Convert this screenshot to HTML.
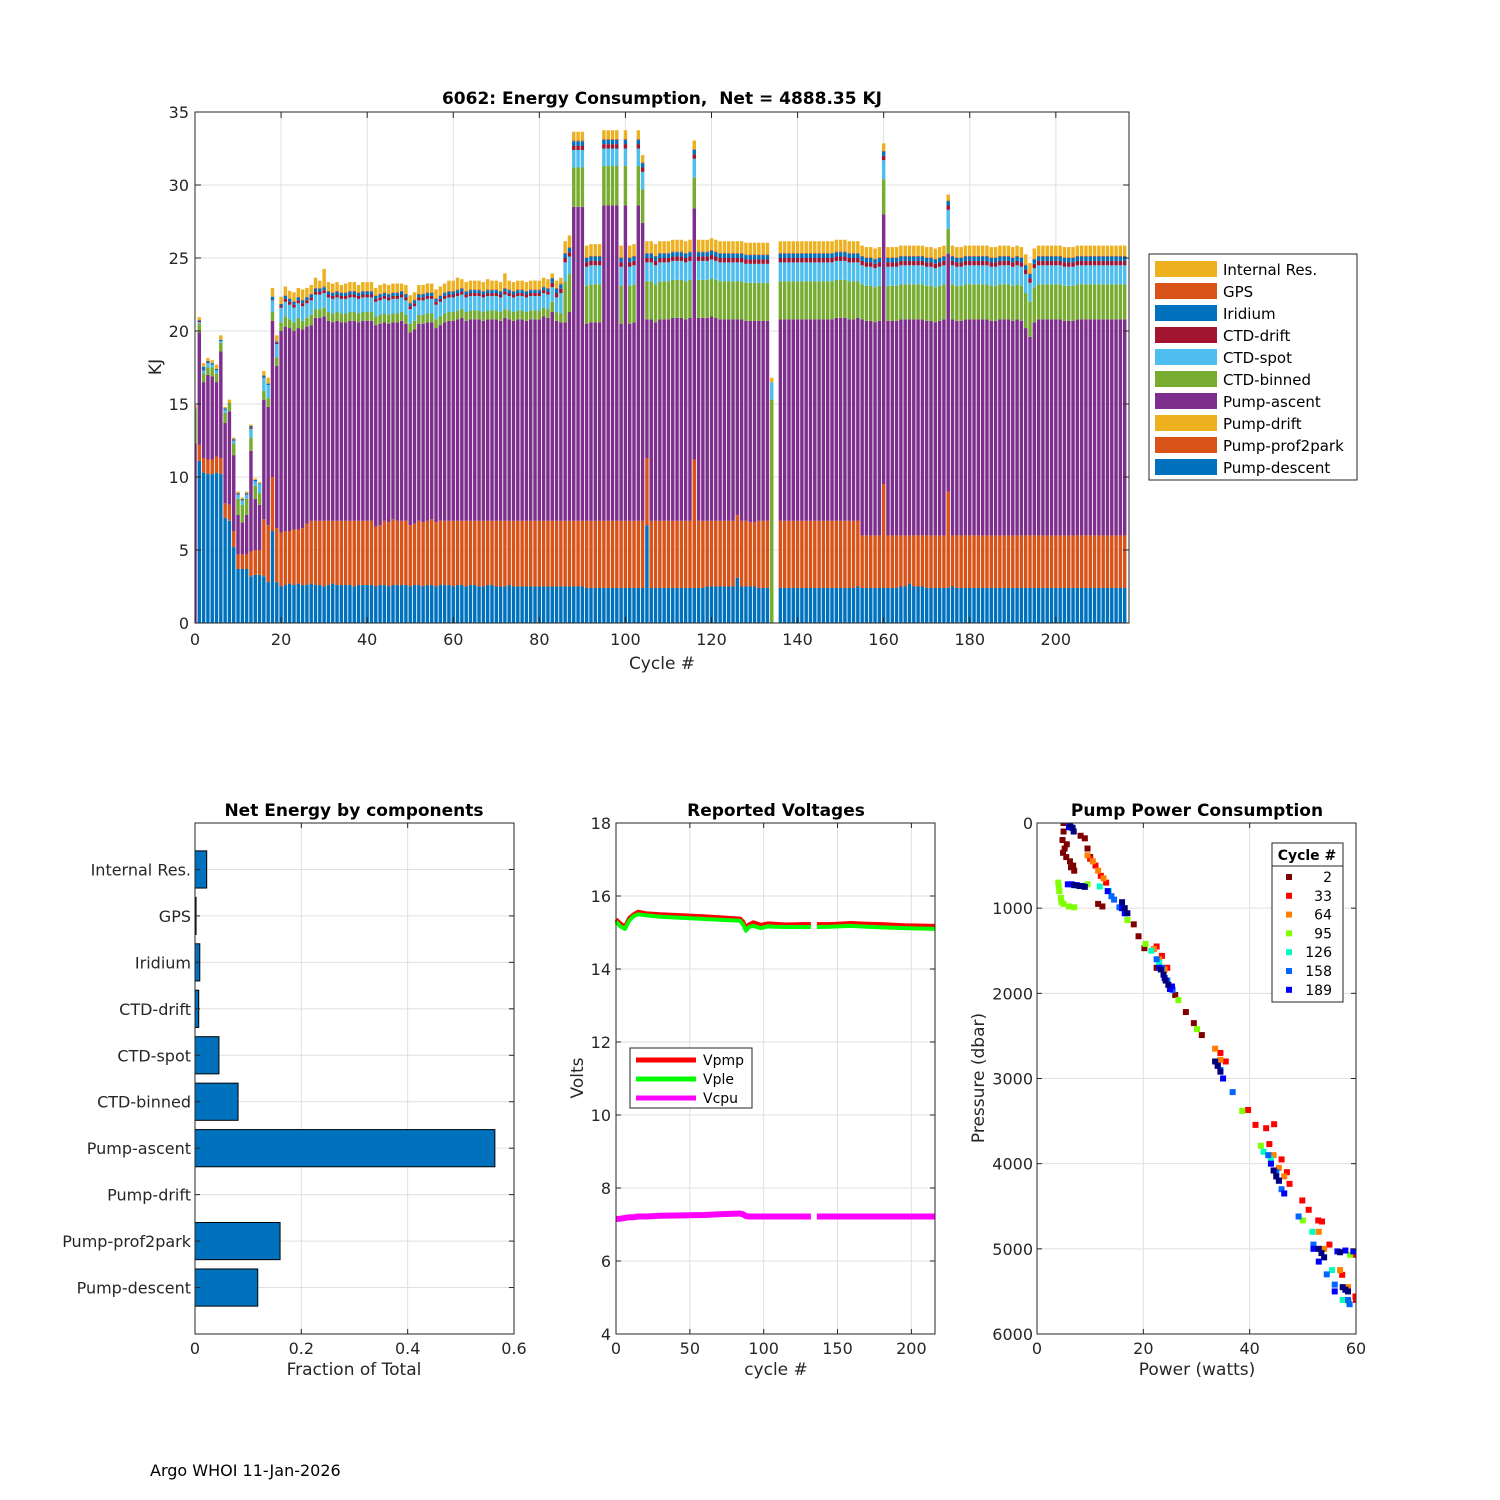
<!DOCTYPE html>
<html><head><meta charset="utf-8"><style>
html,body{margin:0;padding:0;background:#fff;}
svg{display:block;font-family:"DejaVu Sans","Liberation Sans",sans-serif;}
</style></head><body>
<svg id="chart" width="1500" height="1500" viewBox="0 0 1500 1500" xmlns="http://www.w3.org/2000/svg">
<rect x="0" y="0" width="1500" height="1500" fill="#fff"/>
<defs><clipPath id="topclip"><rect x="195" y="112" width="934" height="511"/></clipPath>
<clipPath id="rclip"><rect x="1037" y="823" width="319" height="511"/></clipPath></defs>
<text x="662" y="104" text-anchor="middle" font-size="17" font-weight="bold" fill="#000">6062: Energy Consumption,&#160; Net = 4888.35 KJ</text>
<text x="662" y="669" text-anchor="middle" font-size="17" fill="#262626">Cycle #</text>
<text transform="translate(161,367) rotate(-90)" text-anchor="middle" font-size="17" fill="#262626">KJ</text>
<text x="354" y="816" text-anchor="middle" font-size="17" font-weight="bold" fill="#000">Net Energy by components</text>
<text x="776" y="816" text-anchor="middle" font-size="17" font-weight="bold" fill="#000">Reported Voltages</text>
<text x="1197" y="816" text-anchor="middle" font-size="17" font-weight="bold" fill="#000">Pump Power Consumption</text>
<text x="354" y="1375" text-anchor="middle" font-size="17" fill="#262626">Fraction of Total</text>
<text x="776" y="1375" text-anchor="middle" font-size="17" fill="#262626">cycle #</text>
<text transform="translate(583,1078) rotate(-90)" text-anchor="middle" font-size="17" fill="#262626">Volts</text>
<text x="1197" y="1375" text-anchor="middle" font-size="17" fill="#262626">Power (watts)</text>
<text transform="translate(984,1078) rotate(-90)" text-anchor="middle" font-size="17" fill="#262626">Pressure (dbar)</text>
<text x="150" y="1476" font-size="16" fill="#000">Argo WHOI 11-Jan-2026</text>
</svg>
<script>
// ===== Top chart data (per cycle 0..216) =====
const seriesNames = ["Pump-descent","Pump-prof2park","Pump-drift","Pump-ascent","CTD-binned","CTD-spot","CTD-drift","Iridium","GPS","Internal Res."];
const seriesColors = ["#0072BD","#D95319","#EDB120","#7E2F8E","#77AC30","#4DBEEE","#A2142F","#0072BD","#D95319","#EDB120"];
const pumpDescent = [0,11.1,10.3,10.2,10.2,10.3,10.2,7.2,7.0,5.2,3.7,3.7,3.7,3.2,3.3,3.3,3.2,2.8,6.3,2.8,2.5,
2.6,2.7,2.6,2.7,2.6,2.6,2.7,2.6,2.6,2.5, 2.6,2.7,2.6,2.6,2.6,2.6,2.5,2.6,2.6,2.6, 2.6,2.5,2.6,2.6,2.5,2.6,2.6,2.6,2.6,2.5, 2.6,2.6,2.5,2.6,2.6,2.5,2.6,2.6,2.6,2.5, 2.6,2.6,2.5,2.6,2.6,2.5,2.5,2.6,2.6,2.5, 2.5,2.5,2.6,2.5,2.5,2.5,2.5,2.5,2.5,2.5, 2.5,2.5,
2.5,2.5,2.5,2.5,2.5,2.5,2.5,2.5,2.4,2.4, 2.4,2.4,2.4,2.4,2.4,2.4,2.4,2.4,2.4,2.4, 2.4,2.4,6.7,2.4,2.4,2.4,2.4,2.4,2.4,2.4, 2.4,2.4,2.4,2.4,2.4,2.4,2.5,2.5,2.5,2.5, 2.5,2.5,2.5,3.1,2.5,2.5,2.5,2.5,2.4,2.4, 2.4,0,0,2.4,2.4,2.4,2.4,2.4,2.4,2.4, 2.4,2.4,2.4,2.4,2.4,2.4,2.4,2.4,2.4,2.4, 2.4,2.5,2.4,2.4,2.4,2.4,2.4,2.4,2.4,2.4, 2.4,2.5,2.5,2.7,2.5,2.5,2.5,2.4,2.4,2.4, 2.4,2.4,2.4,2.5,2.4,2.4,2.4,2.4,2.4,2.4, 2.4,2.4,2.4,2.4,2.4,2.4,2.4,2.4,2.4,2.4, 2.4,2.4,2.4,2.4,2.4,2.4,2.4,2.4,2.4,2.4, 2.4,2.4,2.4,2.4,2.4,2.4,2.4,2.4,2.4,2.4, 2.4,2.4,2.4,2.4];
const pumpProf2park = [0,1.1,1.0,1.0,1.0,1.1,1.1,1.0,1.1,1.1,1.0,1.0,1.0,1.7,1.7,1.7,3.9,3.9,3.7,3.7,3.7,
3.7,3.6,3.8,3.7,3.9,4.2,4.3,4.4,4.4,4.5, 4.4,4.3,4.4,4.4,4.4,4.4,4.5,4.4,4.4,4.4, 4.4,4.1,4.1,4.4,4.4,4.5,4.4,4.4,4.4,4.2, 4.2,4.4,4.4,4.4,4.5,4.4,4.4,4.4,4.4,4.5, 4.4,4.4,4.5,4.4,4.4,4.5,4.5,4.4,4.4,4.5, 4.5,4.5,4.4,4.5,4.5,4.5,4.5,4.5,4.5,4.5, 4.5,4.5,
4.5,4.5,4.5,4.5,4.5,4.5,4.5,4.5,4.6,4.6, 4.6,4.6,4.6,4.6,4.6,4.6,4.6,4.6,4.6,4.6, 4.6,4.6,4.6,4.6,4.6,4.6,4.6,4.6,4.6,4.6, 4.6,4.6,4.6,8.8,4.6,4.6,4.5,4.5,4.5,4.5, 4.5,4.5,4.5,4.3,4.5,4.5,4.4,4.4,4.6,4.6, 4.6,0,0,4.6,4.6,4.6,4.6,4.6,4.6,4.6, 4.6,4.6,4.6,4.6,4.6,4.6,4.6,4.6,4.6,4.6, 4.6,4.5,3.6,3.6,3.6,3.6,3.6,7.1,3.6,3.6, 3.6,3.5,3.5,3.3,3.5,3.5,3.5,3.6,3.6,3.6, 3.6,3.6,6.6,3.5,3.6,3.6,3.6,3.6,3.6,3.6, 3.6,3.6,3.6,3.6,3.6,3.6,3.6,3.6,3.6,3.6, 3.6,3.6,3.6,3.6,3.6,3.6,3.6,3.6,3.6,3.6, 3.6,3.6,3.6,3.6,3.6,3.6,3.6,3.6,3.6,3.6, 3.6,3.6,3.6,3.6];
const pumpDrift = [0,0,0,0,0,0,0,0,0,0,0,0,0,0,0,0,0,0,0,0,0,
0,0,0,0,0,0,0,0,0,0, 0,0,0,0,0,0,0,0,0,0, 0,0,0,0,0,0,0,0,0,0, 0,0,0,0,0,0,0,0,0,0, 0,0,0,0,0,0,0,0,0,0, 0,0,0,0,0,0,0,0,0,0, 0,0,
0,0,0,0,0,0,0,0,0,0, 0,0,0,0,0,0,0,0,0,0, 0,0,0,0,0,0,0,0,0,0, 0,0,0,0,0,0,0,0,0,0, 0,0,0,0,0,0,0,0,0,0, 0,0,0,0,0,0,0,0,0,0, 0,0,0,0,0,0,0,0,0,0, 0,0,0,0,0,0,0,0,0,0, 0,0,0,0,0,0,0,0,0,0, 0,0,0,0,0,0,0,0,0,0, 0,0,0,0,0,0,0,0,0,0, 0,0,0,0,0,0,0,0,0,0, 0,0,0,0,0,0,0,0,0,0, 0,0,0,0];
const pumpAscent = [12.3,7.7,5.2,5.8,5.7,5.1,7.3,5.5,6.4,5.2,2.7,2.2,2.7,6.9,3.5,3.1,8.2,8.1,10.7,11.1,13.8,
14.0,13.9,13.6,13.8,13.6,13.5,13.4,13.9,13.9,14.0, 13.7,13.6,13.7,13.6,13.6,13.7,13.7,13.6,13.7,13.7, 13.7,13.8,13.8,13.6,13.6,13.5,13.6,13.7,13.5,13.2, 13.3,13.5,13.6,13.6,13.5,13.3,13.4,13.6,13.7,13.7, 13.8,13.9,13.7,13.8,13.8,13.8,13.7,13.8,13.8,13.8, 13.7,13.9,13.8,13.7,13.8,13.8,13.7,13.8,13.8,13.8, 14.0,13.9,
14.3,13.7,13.6,13.6,14.3,21.5,21.5,21.5,13.5,13.6, 13.6,13.6,21.6,21.6,21.6,21.6,13.5,21.6,13.5,13.6, 21.6,20.4,9.5,13.8,13.6,13.8,13.8,13.8,13.9,13.9, 13.9,13.8,13.9,17.2,13.9,13.9,13.9,14.0,13.9,13.8, 13.8,13.8,13.8,13.4,13.8,13.7,13.8,13.8,13.7,13.7, 13.7,0,0,13.8,13.8,13.8,13.8,13.8,13.8,13.8, 13.8,13.8,13.8,13.8,13.8,13.8,13.9,13.9,13.9,13.8, 13.8,13.9,14.8,14.7,14.7,14.6,14.7,18.5,14.7,14.7, 14.7,14.8,14.8,14.8,14.8,14.8,14.8,14.7,14.7,14.6, 14.7,14.8,16.3,14.8,14.7,14.7,14.8,14.8,14.8,14.8, 14.8,14.8,14.7,14.7,14.8,14.8,14.8,14.7,14.8,14.7, 14.2,13.6,14.6,14.8,14.8,14.8,14.8,14.8,14.8,14.7, 14.7,14.7,14.8,14.8,14.8,14.8,14.8,14.8,14.8,14.8, 14.8,14.8,14.8,14.8];
const ctdBinned = [2.4,0.6,0.6,0.5,0.6,0.6,0.6,0.7,0.6,0.8,1.1,1.2,1.1,0.9,0.9,0.8,0.6,0.6,0.6,0.6,0.6,
0.7,0.6,0.6,0.7,0.6,0.6,0.7,0.6,0.6,0.6, 0.6,0.6,0.6,0.6,0.6,0.6,0.6,0.6,0.6,0.6, 0.6,0.6,0.6,0.6,0.6,0.6,0.6,0.6,0.6,0.6, 0.6,0.6,0.6,0.6,0.6,0.6,0.6,0.6,0.6,0.6, 0.6,0.6,0.6,0.6,0.6,0.6,0.6,0.6,0.6,0.6, 0.6,0.6,0.6,0.6,0.6,0.6,0.6,0.6,0.6,0.6, 0.6,0.6,
0.7,0.6,0.6,2.8,2.6,2.7,2.7,2.7,2.6,2.6, 2.6,2.6,2.7,2.7,2.7,2.7,2.6,2.7,2.6,2.6, 2.7,2.3,2.6,2.6,2.6,2.6,2.6,2.6,2.6,2.6, 2.6,2.6,2.6,2.1,2.6,2.6,2.6,2.6,2.6,2.6, 2.6,2.6,2.6,2.6,2.6,2.6,2.6,2.6,2.6,2.6, 2.6,15.3,0,2.6,2.6,2.6,2.6,2.6,2.6,2.6, 2.6,2.6,2.6,2.6,2.6,2.6,2.6,2.6,2.6,2.6, 2.6,2.5,2.4,2.4,2.4,2.4,2.4,2.4,2.4,2.4, 2.4,2.4,2.4,2.4,2.4,2.4,2.4,2.4,2.4,2.4, 2.4,2.4,1.7,2.4,2.4,2.4,2.4,2.4,2.4,2.4, 2.4,2.4,2.4,2.4,2.4,2.4,2.4,2.4,2.4,2.4, 2.4,2.4,2.4,2.4,2.4,2.4,2.4,2.4,2.4,2.4, 2.4,2.4,2.4,2.4,2.4,2.4,2.4,2.4,2.4,2.4, 2.4,2.4,2.4,2.4];
const ctdSpot = [0,0.1,0.2,0.3,0.2,0.2,0.1,0.2,0,0.2,0.3,0.3,0.3,0.6,0.3,0.6,0.9,0.9,0.8,0.9,1.0,
1.0,1.0,1.0,1.0,1.0,1.0,1.0,1.0,1.0,1.0, 1.0,1.0,1.0,1.0,1.0,1.0,1.0,1.0,1.0,1.0, 1.0,1.0,1.0,1.0,1.0,1.0,1.0,1.0,1.0,1.0, 1.0,1.0,1.0,1.0,1.0,1.0,1.0,1.0,1.0,1.0, 1.0,1.0,1.0,1.0,1.0,1.0,1.0,1.0,1.0,1.0, 1.0,1.0,1.0,1.0,1.0,1.0,1.0,1.0,1.0,1.0, 1.0,1.0,
1.0,1.0,1.4,1.3,1.2,1.2,1.2,1.2,1.3,1.3, 1.3,1.3,1.2,1.2,1.2,1.2,1.3,1.2,1.3,1.3, 1.2,1.2,1.3,1.3,1.3,1.3,1.3,1.3,1.3,1.3, 1.3,1.3,1.3,1.3,1.3,1.3,1.3,1.3,1.3,1.3, 1.3,1.3,1.3,1.3,1.3,1.3,1.3,1.3,1.3,1.3, 1.3,1.2,0,1.3,1.3,1.3,1.3,1.3,1.3,1.3, 1.3,1.3,1.3,1.3,1.3,1.3,1.3,1.3,1.3,1.3, 1.3,1.3,1.3,1.3,1.3,1.3,1.3,1.3,1.3,1.3, 1.3,1.3,1.3,1.3,1.3,1.3,1.3,1.3,1.3,1.3, 1.3,1.3,1.3,1.3,1.3,1.3,1.3,1.3,1.3,1.3, 1.3,1.3,1.3,1.3,1.3,1.3,1.3,1.3,1.3,1.3, 1.3,1.3,1.3,1.3,1.3,1.3,1.3,1.3,1.3,1.3, 1.3,1.3,1.3,1.3,1.3,1.3,1.3,1.3,1.3,1.3, 1.3,1.3,1.3,1.3];
const ctdDrift = [0,0.1,0.05,0.05,0,0,0,0,0,0.05,0.05,0.05,0.05,0.1,0,0,0.05,0,0.05,0.1,0.15,
0.2,0.2,0.2,0.2,0.2,0.2,0.2,0.2,0.2,0.2, 0.2,0.2,0.2,0.2,0.2,0.2,0.2,0.2,0.2,0.2, 0.2,0.2,0.2,0.2,0.2,0.2,0.2,0.2,0.2,0.2, 0.2,0.2,0.2,0.2,0.2,0.2,0.2,0.2,0.2,0.2, 0.2,0.2,0.2,0.2,0.2,0.2,0.2,0.2,0.2,0.2, 0.2,0.2,0.2,0.2,0.2,0.2,0.2,0.2,0.2,0.2, 0.2,0.2,
0.3,0.3,0.3,0.3,0.3,0.3,0.3,0.3,0.3,0.3, 0.3,0.3,0.3,0.3,0.3,0.3,0.3,0.3,0.3,0.3, 0.3,0.3,0.3,0.3,0.3,0.3,0.3,0.3,0.3,0.3, 0.3,0.3,0.3,0.3,0.3,0.3,0.3,0.3,0.3,0.3, 0.3,0.3,0.3,0.3,0.3,0.3,0.3,0.3,0.3,0.3, 0.3,0,0,0.3,0.3,0.3,0.3,0.3,0.3,0.3, 0.3,0.3,0.3,0.3,0.3,0.3,0.3,0.3,0.3,0.3, 0.3,0.3,0.3,0.3,0.3,0.3,0.3,0.3,0.3,0.3, 0.3,0.3,0.3,0.3,0.3,0.3,0.3,0.3,0.3,0.3, 0.3,0.3,0.3,0.3,0.3,0.3,0.3,0.3,0.3,0.3, 0.3,0.3,0.3,0.3,0.3,0.3,0.3,0.3,0.3,0.3, 0.3,0.3,0.3,0.3,0.3,0.3,0.3,0.3,0.3,0.3, 0.3,0.3,0.3,0.3,0.3,0.3,0.3,0.3,0.3,0.3, 0.3,0.3,0.3,0.3];
const iridium = [0,0.05,0.2,0.1,0.1,0.1,0.1,0.1,0,0.05,0.05,0.05,0.05,0.1,0.1,0.05,0.1,0.1,0.2,0.1,0.1,
0.2,0.2,0.2,0.2,0.2,0.2,0.2,0.2,0.2,0.2, 0.2,0.2,0.2,0.2,0.2,0.2,0.2,0.2,0.2,0.2, 0.2,0.2,0.2,0.2,0.2,0.2,0.2,0.2,0.2,0.2, 0.2,0.2,0.2,0.2,0.2,0.2,0.2,0.2,0.2,0.2, 0.2,0.2,0.2,0.2,0.2,0.2,0.2,0.2,0.2,0.2, 0.2,0.2,0.2,0.2,0.2,0.2,0.2,0.2,0.2,0.2, 0.2,0.2,
0.3,0.3,0.3,0.3,0.3,0.3,0.3,0.3,0.3,0.3, 0.3,0.3,0.3,0.3,0.3,0.3,0.3,0.3,0.3,0.3, 0.3,0.3,0.3,0.3,0.3,0.3,0.3,0.3,0.3,0.3, 0.3,0.3,0.3,0.3,0.3,0.3,0.3,0.3,0.3,0.3, 0.3,0.3,0.3,0.3,0.3,0.3,0.3,0.3,0.3,0.3, 0.3,0,0,0.3,0.3,0.3,0.3,0.3,0.3,0.3, 0.3,0.3,0.3,0.3,0.3,0.3,0.3,0.3,0.3,0.3, 0.3,0.3,0.3,0.3,0.3,0.3,0.3,0.3,0.3,0.3, 0.3,0.3,0.3,0.3,0.3,0.3,0.3,0.3,0.3,0.3, 0.3,0.3,0.3,0.3,0.3,0.3,0.3,0.3,0.3,0.3, 0.3,0.3,0.3,0.3,0.3,0.3,0.3,0.3,0.3,0.3, 0.3,0.3,0.3,0.3,0.3,0.3,0.3,0.3,0.3,0.3, 0.3,0.3,0.3,0.3,0.3,0.3,0.3,0.3,0.3,0.3, 0.3,0.3,0.3,0.3];
const gps = [0,0,0,0,0,0,0,0,0,0,0,0,0,0,0,0,0,0,0,0,0,
0.05,0.05,0.05,0.05,0.05,0.05,0.05,0.05,0.05,0.05, 0.05,0.05,0.05,0.05,0.05,0.05,0.05,0.05,0.05,0.05, 0.05,0.05,0.05,0.05,0.05,0.05,0.05,0.05,0.05,0.05, 0.05,0.05,0.05,0.05,0.05,0.05,0.05,0.05,0.05,0.05, 0.05,0.05,0.05,0.05,0.05,0.05,0.05,0.05,0.05,0.05, 0.05,0.05,0.05,0.05,0.05,0.05,0.05,0.05,0.05,0.05, 0.05,0.05,
0.05,0.05,0.05,0.05,0.05,0.05,0.05,0.05,0.05,0.05, 0.05,0.05,0.05,0.05,0.05,0.05,0.05,0.05,0.05,0.05, 0.05,0.05,0.05,0.05,0.05,0.05,0.05,0.05,0.05,0.05, 0.05,0.05,0.05,0.05,0.05,0.05,0.05,0.05,0.05,0.05, 0.05,0.05,0.05,0.05,0.05,0.05,0.05,0.05,0.05,0.05, 0.05,0,0,0.05,0.05,0.05,0.05,0.05,0.05,0.05, 0.05,0.05,0.05,0.05,0.05,0.05,0.05,0.05,0.05,0.05, 0.05,0.05,0.05,0.05,0.05,0.05,0.05,0.05,0.05,0.05, 0.05,0.05,0.05,0.05,0.05,0.05,0.05,0.05,0.05,0.05, 0.05,0.05,0.05,0.05,0.05,0.05,0.05,0.05,0.05,0.05, 0.05,0.05,0.05,0.05,0.05,0.05,0.05,0.05,0.05,0.05, 0.05,0.05,0.05,0.05,0.05,0.05,0.05,0.05,0.05,0.05, 0.05,0.05,0.05,0.05,0.05,0.05,0.05,0.05,0.05,0.05, 0.05,0.05,0.05,0.05];
const internalRes = [0.2,0.2,0.25,0.2,0.2,0.3,0.3,0.1,0.2,0.1,0.1,0.1,0.1,0.1,0.1,0.1,0.3,0.4,0.6,0.4,0.5,
0.6,0.5,0.6,0.6,0.7,0.6,0.6,0.7,0.5,1.2, 0.6,0.6,0.6,0.5,0.6,0.6,0.6,0.5,0.6,0.6, 0.6,0.5,0.6,0.6,0.6,0.6,0.6,0.5,0.6,0.5, 0.5,0.6,0.6,0.6,0.6,0.6,0.6,0.6,0.7,0.7, 0.8,0.6,0.6,0.6,0.6,0.6,0.6,0.7,0.6,0.6, 0.6,1.0,0.6,0.6,0.6,0.6,0.6,0.6,0.6,0.6, 0.6,0.6,
0.3,0.5,0.4,0.8,0.8,0.6,0.6,0.6,0.8,0.8, 0.8,0.8,0.6,0.6,0.6,0.6,0.8,0.6,0.8,0.8, 0.6,0.5,0.8,0.8,0.8,0.8,0.8,0.8,0.8,0.8, 0.8,0.8,0.8,0.6,0.8,0.8,0.8,0.8,0.8,0.8, 0.8,0.8,0.8,0.8,0.8,0.8,0.8,0.8,0.8,0.8, 0.8,0.3,0,0.8,0.8,0.8,0.8,0.8,0.8,0.8, 0.8,0.8,0.8,0.8,0.8,0.8,0.8,0.8,0.8,0.8, 0.8,0.8,0.7,0.7,0.7,0.7,0.7,0.5,0.7,0.7, 0.7,0.7,0.7,0.7,0.7,0.7,0.7,0.7,0.7,0.7, 0.7,0.7,0.4,0.7,0.7,0.7,0.7,0.7,0.7,0.7, 0.7,0.7,0.7,0.7,0.7,0.7,0.7,0.7,0.7,0.7, 0.7,0.7,0.7,0.7,0.7,0.7,0.7,0.7,0.7,0.7, 0.7,0.7,0.7,0.7,0.7,0.7,0.7,0.7,0.7,0.7, 0.7,0.7,0.7,0.7];
const topXTicks = [0,20,40,60,80,100,120,140,160,180,200];
const topYTicks = [0,5,10,15,20,25,30,35];

// ===== Components chart data =====
const compLabels = ["Internal Res.","GPS","Iridium","CTD-drift","CTD-spot","CTD-binned","Pump-ascent","Pump-drift","Pump-prof2park","Pump-descent"];
const compFractions = [0.022,0.002,0.009,0.007,0.045,0.081,0.564,0.0,0.160,0.118];
const compXTicks = [0,0.2,0.4,0.6];

// ===== Voltage chart data =====
const voltCycles = [0,3,6,9,12,15,20,30,45,60,70,84,86,88,90,93,98,103,107,115,125,132,null,136,145,159,170,180,195,216];
const vPmp = [15.36,15.25,15.16,15.4,15.5,15.57,15.53,15.5,15.47,15.44,15.42,15.38,15.3,15.13,15.22,15.28,15.21,15.25,15.24,15.22,15.23,15.23,null,15.23,15.23,15.26,15.24,15.23,15.2,15.18];
const vPle = [15.3,15.17,15.1,15.33,15.45,15.5,15.47,15.43,15.4,15.37,15.35,15.32,15.22,15.05,15.15,15.18,15.12,15.17,15.16,15.15,15.15,15.15,null,15.15,15.16,15.18,15.16,15.14,15.12,15.1];
const vCpu = [7.15,7.16,7.18,7.2,7.2,7.22,7.22,7.24,7.25,7.26,7.28,7.3,7.28,7.23,7.22,7.22,7.22,7.22,7.22,7.22,7.22,7.22,null,7.22,7.22,7.22,7.22,7.22,7.22,7.22];
const voltXTicks = [0,50,100,150,200];
const voltYTicks = [4,6,8,10,12,14,16,18];

// ===== Pump power scatter data =====
const pumpCycles = ["2","33","64","95","126","158","189"];
const pumpColors = ["#7f0000","#ff0000","#ff8000","#80ff00","#00ffbf","#0066ff","#0000ff"];
const power2 = [5,5,4.8,5.2,5.5,6.2,6.8,7,8.2,9,9.5,10,11.5,12.3,18.2,19.1,20.2,22.5,26,28,29.5,31,5.6,4.9,6.4];
const pres2 = [0,100,200,300,400,450,500,560,150,180,300,400,950,980,1190,1330,1470,1700,2020,2220,2350,2490,250,350,520];
const power33 = [10,11,12,13,22.5,23.5,24.5,34.5,35.5,39.7,41.1,43.1,44.6,43.7,46,47,47.5,49.9,51.1,52.9,53.6,55,57.4,59.9,59.9,60];
const pres33 = [420,500,620,700,1450,1560,1700,2700,2800,3370,3545,3584,3537,3770,3950,4100,4237,4432,4542,4667,4679,4950,5305,5070,5560,5600];
const power64 = [9.5,10.5,11.5,12.5,22,23,24,33.5,34.5,44.5,45.5,46.5,53,54,57,58.5];
const pres64 = [380,450,560,650,1480,1600,1720,2650,2780,3900,4050,4150,4800,5000,5250,5450];
const power95 = [4,4.2,4.5,5,6,7,4.1,4.6,9.5,17,20.4,26.6,30.1,38.6,42.1,50,58.9,58.6];
const pres95 = [700,800,880,950,980,990,750,930,720,1140,1420,2080,2420,3380,3790,4667,5070,5620];
const power126 = [7,11.8,13.5,21.5,23,42.6,44,51.8,55.5,57.5];
const pres126 = [-50,745,800,1500,1640,3860,3950,4800,5250,5600];
const power158 = [6,6.5,14,14.5,15.5,22.5,23.5,24.5,25.5,34.5,36.8,43.5,45,46,49.2,52,54.5,56,58.5,58.8];
const pres158 = [0,50,860,900,990,1600,1700,1850,1960,2900,3160,3900,4100,4300,4620,4950,5300,5420,5600,5650];
const power189 = [6,5.8,6.5,7.5,8.5,13.3,16,16.5,23,24,25,25.4,34,35,44,45.5,46.5,52,53,56.5,58,59.5,56];
const pres189 = [50,720,720,730,740,800,1000,1060,1700,1820,1950,1920,2850,3000,4000,4200,4350,5000,5150,5030,5020,5030,5500];
const powerLate = [6.2,6.7,6.9,8,9,7,16,16.5,17,23.3,23.8,24.2,24.7,33.5,34,34.5,44.5,45,45.5,53,53.5,54,57.5,58,58.5,57];
const presLate = [20,60,100,740,750,730,930,1000,1060,1720,1780,1850,1900,2800,2850,2920,4080,4150,4200,5000,5050,5100,5450,5480,5500,5040];
const pumpXTicks = [0,20,40,60];
const pumpYTicks = [0,1000,2000,3000,4000,5000,6000];

// ===== drawing helpers =====
const NS = "http://www.w3.org/2000/svg";
const svg = document.getElementById("chart");
function mk(tag, attrs, parent) {
  const e = document.createElementNS(NS, tag);
  for (const k in attrs) e.setAttribute(k, attrs[k]);
  (parent || svg).appendChild(e);
  return e;
}
function txt(x, y, s, size, anchor, parent) {
  const t = mk("text", {x: x, y: y, "font-size": size, "text-anchor": anchor, fill: "#262626"}, parent);
  t.textContent = s;
  return t;
}
const GRID = "#dfdfdf", AX = "#262626";

// ===== Top chart =====
const T = {x0: 195, y0: 112, w: 934, h: 511, xmax: 217, ymax: 35};
const tx = c => T.x0 + c / T.xmax * T.w;
const ty = v => T.y0 + T.h - v / T.ymax * T.h;
const topG = mk("g", {});


topXTicks.forEach(v => {
  const l = mk("line", {x1: tx(v), x2: tx(v), y1: T.y0, y2: T.y0 + T.h, stroke: GRID}, topG);
  
  
});
topYTicks.forEach(v => {
  const l = mk("line", {x1: T.x0, x2: T.x0 + T.w, y1: ty(v), y2: ty(v), stroke: GRID}, topG);
  
  
});
const allSeries = [pumpDescent, pumpProf2park, pumpDrift, pumpAscent, ctdBinned, ctdSpot, ctdDrift, iridium, gps, internalRes];
const barsG = mk("g", {"clip-path": "url(#topclip)"}, topG);


const bw = 0.8 * T.w / T.xmax;
for (let c = 0; c < pumpDescent.length; c++) {
  let cum = 0;
  for (let k = 0; k < allSeries.length; k++) {
    const v = allSeries[k][c];
    if (v > 0) {
      const r = mk("rect", {x: tx(c) - bw / 2, y: ty(cum + v), width: bw, height: ty(cum) - ty(cum + v), fill: seriesColors[k]}, barsG);
      
      
    }
    cum += v;
  }
}
mk("rect", {x: T.x0, y: T.y0, width: T.w, height: T.h, fill: "none", stroke: AX, "stroke-width": 1}, topG);
topXTicks.forEach(v => {
  mk("line", {x1: tx(v), x2: tx(v), y1: T.y0 + T.h, y2: T.y0 + T.h - 6, stroke: AX}, topG);
  mk("line", {x1: tx(v), x2: tx(v), y1: T.y0, y2: T.y0 + 6, stroke: AX}, topG);
  const t = txt(tx(v), T.y0 + T.h + 22, String(v), 16, "middle", topG);
  
  
});
topYTicks.forEach(v => {
  mk("line", {x1: T.x0, x2: T.x0 + 6, y1: ty(v), y2: ty(v), stroke: AX}, topG);
  mk("line", {x1: T.x0 + T.w, x2: T.x0 + T.w - 6, y1: ty(v), y2: ty(v), stroke: AX}, topG);
  const t = txt(T.x0 - 6, ty(v) + 6, String(v), 16, "end", topG);
  
  
});
// legend
const lg = mk("g", {});


mk("rect", {x: 1149, y: 254, width: 208, height: 226, fill: "#fff", stroke: AX}, lg);
for (let i = 0; i < 10; i++) {
  const k = 9 - i;
  const y = 269 + i * 22;
  const sw = mk("rect", {x: 1155, y: y - 8, width: 62, height: 16, fill: seriesColors[k]}, lg);
  
  
  const t = mk("text", {x: 1223, y: y + 6, "font-size": 15, fill: "#000"}, lg);
  t.textContent = seriesNames[k];
  
  
}

// ===== Components bar chart =====
const C = {x0: 195, y0: 823, w: 319, h: 511, xmax: 0.6};
const cx = v => C.x0 + v / C.xmax * C.w;
const cStep = C.h / 11;
const cy = i => C.y0 + (i + 1) * cStep;
const compG = mk("g", {});


compXTicks.forEach(v => mk("line", {x1: cx(v), x2: cx(v), y1: C.y0, y2: C.y0 + C.h, stroke: GRID}, compG));
compLabels.forEach((lab, i) => mk("line", {x1: C.x0, x2: C.x0 + C.w, y1: cy(i), y2: cy(i), stroke: GRID}, compG));
compLabels.forEach((lab, i) => {
  const v = compFractions[i];
  if (v > 0) {
    const r = mk("rect", {x: C.x0, y: cy(i) - 0.4 * cStep, width: cx(v) - C.x0, height: 0.8 * cStep, fill: "#0072BD", stroke: "#000", "stroke-width": 1}, compG);
    
    
  }
  const t = txt(C.x0 - 4, cy(i) + 6, lab, 16, "end", compG);
  
  
  mk("line", {x1: C.x0, x2: C.x0 + 5, y1: cy(i), y2: cy(i), stroke: AX}, compG);
  mk("line", {x1: C.x0 + C.w, x2: C.x0 + C.w - 5, y1: cy(i), y2: cy(i), stroke: AX}, compG);
});
mk("rect", {x: C.x0, y: C.y0, width: C.w, height: C.h, fill: "none", stroke: AX}, compG);
compXTicks.forEach(v => {
  mk("line", {x1: cx(v), x2: cx(v), y1: C.y0 + C.h, y2: C.y0 + C.h - 5, stroke: AX}, compG);
  mk("line", {x1: cx(v), x2: cx(v), y1: C.y0, y2: C.y0 + 5, stroke: AX}, compG);
  const t = txt(cx(v), C.y0 + C.h + 20, String(v), 16, "middle", compG);
  
  
});

// ===== Voltage chart =====
const V = {x0: 616, y0: 823, w: 319, h: 511, xmax: 216, ymin: 4, ymax: 18};
const vx = c => V.x0 + c / V.xmax * V.w;
const vy = v => V.y0 + V.h - (v - V.ymin) / (V.ymax - V.ymin) * V.h;
const voltG = mk("g", {});


voltXTicks.forEach(v => mk("line", {x1: vx(v), x2: vx(v), y1: V.y0, y2: V.y0 + V.h, stroke: GRID}, voltG));
voltYTicks.forEach(v => mk("line", {x1: V.x0, x2: V.x0 + V.w, y1: vy(v), y2: vy(v), stroke: GRID}, voltG));
function pathFrom(xsArr, ysArr) {
  let d = "", pen = false;
  for (let i = 0; i < xsArr.length; i++) {
    if (xsArr[i] === null || ysArr[i] === null) { pen = false; continue; }
    d += (pen ? "L" : "M") + vx(xsArr[i]).toFixed(1) + "," + vy(ysArr[i]).toFixed(1);
    pen = true;
  }
  return d;
}
const pPmp = mk("path", {d: pathFrom(voltCycles, vPmp), fill: "none", stroke: "#ff0000", "stroke-width": 4, "stroke-linejoin": "round"}, voltG);


const pPle = mk("path", {d: pathFrom(voltCycles, vPle), fill: "none", stroke: "#00ff00", "stroke-width": 4, "stroke-linejoin": "round"}, voltG);


const pCpu = mk("path", {d: pathFrom(voltCycles, vCpu), fill: "none", stroke: "#ff00ff", "stroke-width": 6, "stroke-linejoin": "round"}, voltG);


mk("rect", {x: V.x0, y: V.y0, width: V.w, height: V.h, fill: "none", stroke: AX}, voltG);
voltXTicks.forEach(v => {
  mk("line", {x1: vx(v), x2: vx(v), y1: V.y0 + V.h, y2: V.y0 + V.h - 5, stroke: AX}, voltG);
  mk("line", {x1: vx(v), x2: vx(v), y1: V.y0, y2: V.y0 + 5, stroke: AX}, voltG);
  const t = txt(vx(v), V.y0 + V.h + 20, String(v), 16, "middle", voltG);
  
  
});
voltYTicks.forEach(v => {
  mk("line", {x1: V.x0, x2: V.x0 + 5, y1: vy(v), y2: vy(v), stroke: AX}, voltG);
  mk("line", {x1: V.x0 + V.w, x2: V.x0 + V.w - 5, y1: vy(v), y2: vy(v), stroke: AX}, voltG);
  const t = txt(V.x0 - 5, vy(v) + 6, String(v), 16, "end", voltG);
  
  
});
const vl = mk("g", {}, voltG);


mk("rect", {x: 630, y: 1048, width: 122, height: 60, fill: "#fff", stroke: AX}, vl);
[["Vpmp", "#ff0000"], ["Vple", "#00ff00"], ["Vcpu", "#ff00ff"]].forEach((e, i) => {
  const y = 1060 + i * 19;
  mk("line", {x1: 636, x2: 696, y1: y, y2: y, stroke: e[1], "stroke-width": 5}, vl);
  const t = mk("text", {x: 703, y: y + 5, "font-size": 14, fill: "#000"}, vl);
  t.textContent = e[0];
  
  
});

// ===== Pump power scatter =====
const P = {x0: 1037, y0: 823, w: 319, h: 511, xmax: 60, ymax: 6000};
const px = v => P.x0 + v / P.xmax * P.w;
const py = v => P.y0 + v / P.ymax * P.h;
const pumpG = mk("g", {});


pumpXTicks.forEach(v => mk("line", {x1: px(v), x2: px(v), y1: P.y0, y2: P.y0 + P.h, stroke: GRID}, pumpG));
pumpYTicks.forEach(v => mk("line", {x1: P.x0, x2: P.x0 + P.w, y1: py(v), y2: py(v), stroke: GRID}, pumpG));
const ptsG = mk("g", {"clip-path": "url(#rclip)"}, pumpG);
const scatterSets = [[power2, pres2, 0], [power33, pres33, 1], [power64, pres64, 2], [power95, pres95, 3], [power126, pres126, 4], [power158, pres158, 5], [power189, pres189, 6], [powerLate, presLate, -1]];
scatterSets.forEach(set => {
  const col = set[2] < 0 ? "#00007f" : pumpColors[set[2]];
  set[0].forEach((p, i) => {
    const r = mk("rect", {x: px(p) - 3, y: py(set[1][i]) - 3, width: 6, height: 6, fill: col}, ptsG);
    
    
  });
});
mk("rect", {x: P.x0, y: P.y0, width: P.w, height: P.h, fill: "none", stroke: AX}, pumpG);
pumpXTicks.forEach(v => {
  mk("line", {x1: px(v), x2: px(v), y1: P.y0 + P.h, y2: P.y0 + P.h - 5, stroke: AX}, pumpG);
  mk("line", {x1: px(v), x2: px(v), y1: P.y0, y2: P.y0 + 5, stroke: AX}, pumpG);
  const t = txt(px(v), P.y0 + P.h + 20, String(v), 16, "middle", pumpG);
  
  
});
pumpYTicks.forEach(v => {
  mk("line", {x1: P.x0, x2: P.x0 + 5, y1: py(v), y2: py(v), stroke: AX}, pumpG);
  mk("line", {x1: P.x0 + P.w, x2: P.x0 + P.w - 5, y1: py(v), y2: py(v), stroke: AX}, pumpG);
  const t = txt(P.x0 - 4, py(v) + 6, String(v), 16, "end", pumpG);
  
  
});
const pl = mk("g", {}, pumpG);


mk("rect", {x: 1272, y: 843, width: 71, height: 159, fill: "#fff", stroke: AX}, pl);
mk("line", {x1: 1272, x2: 1343, y1: 866, y2: 866, stroke: AX}, pl);
const lh = mk("text", {x: 1307, y: 860, "font-size": 14, "font-weight": "bold", "text-anchor": "middle", fill: "#000"}, pl);
lh.textContent = "Cycle #";


pumpCycles.forEach((c, i) => {
  const y = 877 + i * 18.8;
  mk("rect", {x: 1286, y: y - 3, width: 6, height: 6, fill: pumpColors[i]}, pl);
  const t = mk("text", {x: 1332, y: y + 5, "font-size": 14, "text-anchor": "end", fill: "#000"}, pl);
  t.textContent = c;
  
  
});
</script>
</body></html>
